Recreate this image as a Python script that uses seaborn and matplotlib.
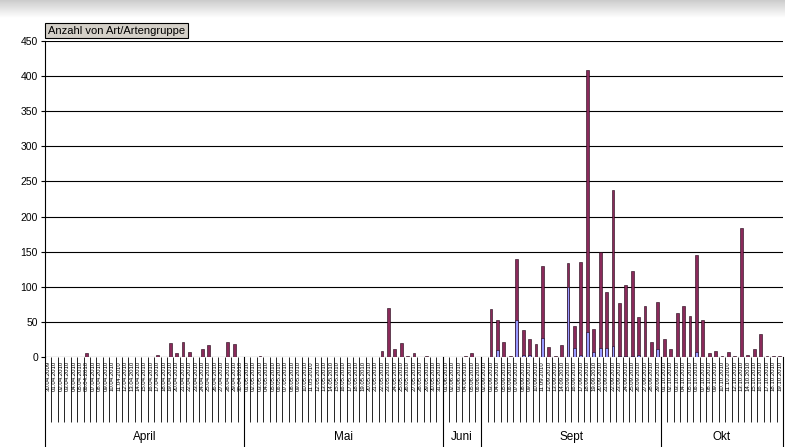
import numpy as np
import pandas as pd
import seaborn as sns
import matplotlib.pyplot as plt
import matplotlib.transforms as mtrans

plt.rcParams['font.family'] = ['Liberation Sans', 'DejaVu Sans']

# --- data ---
months = ["April", "Mai", "Juni", "Sept", "Okt"]
month_sizes = [31, 31, 6, 28, 19]

date_labels = (["30.04.2009"] + [f"{d:02d}.04.2010" for d in range(1, 31)]
               + [f"{d:02d}.05.2010" for d in range(1, 32)]
               + [f"{d:02d}.06.2010" for d in range(1, 7)]
               + [f"{d:02d}.09.2010" for d in range(2, 30)]
               + [f"{d:02d}.10.2010" for d in range(1, 20)])

# totals per day (both series stacked)
apr_total = [0, 0, 0, 0, 0, 0, 6, 0, 0, 0, 0, 0, 0, 0, 0, 0, 0, 3, 0, 20,
             6, 22, 7, 0, 12, 17, 0, 0, 22, 18, 0]
mai_total = [0, 0, 1, 0, 0, 0, 0, 0, 0, 0, 0, 0, 0, 0, 0, 0, 0, 0, 0, 0,
             0, 9, 70, 11, 20, 1, 6, 0, 1, 0, 0]
juni_total = [0, 0, 0, 2, 6, 0]
sept_total = [0, 68, 53, 22, 2, 140, 38, 25, 18, 130, 14, 1, 17, 134, 44,
              135, 409, 40, 150, 93, 238, 77, 103, 123, 57, 72, 21, 78]
okt_total = [25, 12, 63, 73, 58, 145, 52, 5, 8, 2, 7, 1, 184, 3, 12, 33, 2, 1, 2]

# lower (blue) series part
apr_blue = [0] * 31
mai_blue = [0] * 31
juni_blue = [0] * 6
sept_blue = [0, 0, 10, 0, 0, 53, 3, 3, 0, 27, 0, 0, 0, 100, 13, 3, 36, 7,
             13, 13, 16, 2, 2, 2, 3, 0, 0, 12]
okt_blue = [0, 0, 0, 0, 0, 7, 0, 0, 0, 0, 0, 0, 0, 0, 0, 0, 0, 0, 0]

total = apr_total + mai_total + juni_total + sept_total + okt_total
blue = apr_blue + mai_blue + juni_blue + sept_blue + okt_blue
df = pd.DataFrame({"slot": range(len(total)), "total": total, "blue": blue})

W, H = 785, 447
fig = plt.figure(figsize=(W / 100, H / 100), dpi=100)
fig.patch.set_facecolor("white")

# blurred grey strip at the top (screenshot artefact)
gax = fig.add_axes([0, 1 - 18 / H, 1, 18 / H])
grad = np.linspace(0.80, 1.0, 50).reshape(-1, 1)
gax.imshow(grad, cmap="gray", vmin=0, vmax=1, aspect="auto")
gax.axis("off")

ax = fig.add_axes([45 / W, 1 - 357 / H, (783 - 45) / W, 316 / H])

sns.barplot(data=df, x="slot", y="total", color="#8a2a5a", saturation=1,
            width=0.44, edgecolor="#1a0010", linewidth=0.4, ax=ax, zorder=3)
sns.barplot(data=df[df["blue"] > 0], x="slot", y="blue", color="#9999FF",
            saturation=1, width=0.44, edgecolor="#1a0010", linewidth=0.4,
            order=list(df["slot"]), ax=ax, zorder=4)

ax.set_ylim(0, 450)
ax.set_xlim(-0.5, len(total) - 0.5)
ax.set_yticks(range(0, 451, 50))
ax.yaxis.grid(True, color="black", lw=0.8)
ax.set_axisbelow(True)
ax.tick_params(axis="y", length=3, width=0.8, labelsize=7.5, pad=2)
for s in ["top", "right", "bottom"]:
    ax.spines[s].set_visible(False)
ax.spines["left"].set_linewidth(0.8)
ax.set_xlabel("")
ax.set_ylabel("")

ax.set_xticks(range(len(total)))
ax.set_xticklabels(date_labels, rotation=90, fontsize=4.3)
ax.tick_params(axis="x", which="major", length=0, pad=3)
ax.set_xticks(np.arange(len(total) + 1) - 0.5, minor=True)
ax.tick_params(axis="x", which="minor", length=47, width=0.6, color="black")

# month row of the category axis
trans = mtrans.blended_transform_factory(ax.transData, ax.transAxes)
bounds = np.concatenate([[0], np.cumsum(month_sizes)]) - 0.5
for b in bounds:
    ax.plot([b, b], [0, -0.29], color="black", lw=0.8, transform=trans,
            clip_on=False)
for name, a, b in zip(months, bounds[:-1], bounds[1:]):
    ax.text((a + b) / 2, -0.253, name, transform=trans, ha="center",
            va="center", fontsize=8.5)

fig.text(48 / W, 1 - 30.5 / H, "Anzahl von Art/Artengruppe", fontsize=8,
         ha="left", va="center",
         bbox=dict(boxstyle="square,pad=0.25", fc="#d4d0c8", ec="black", lw=0.8))

fig.savefig("out.png", dpi=100)
